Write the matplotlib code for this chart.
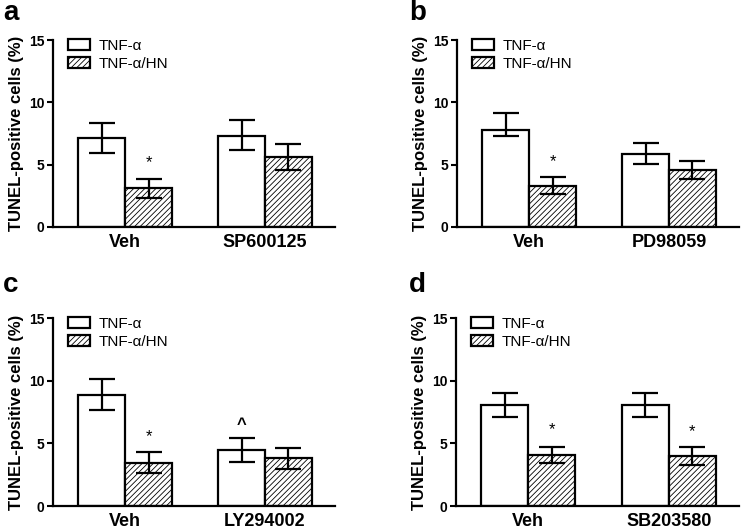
import matplotlib
matplotlib.use("Agg")
import matplotlib.pyplot as plt
import numpy as np

plt.rcParams['font.family'] = ['Liberation Sans', 'DejaVu Sans']
plt.rcParams['hatch.color'] = '#7a7a7a'
plt.rcParams['hatch.linewidth'] = 0.6

series = ["TNF-\u03b1", "TNF-\u03b1/HN"]
panel_letters = ["a", "b", "c", "d"]
groups = [["Veh", "SP600125"], ["Veh", "PD98059"], ["Veh", "LY294002"], ["Veh", "SB203580"]]

# means [panel][group]
tnf_vals = [[7.14, 7.33], [7.81, 5.88], [8.86, 4.46], [8.06, 8.06]]
hn_vals = [[3.10, 5.59], [3.32, 4.57], [3.47, 3.79], [4.06, 3.95]]
tnf_err_lo = [[1.20, 1.18], [0.51, 0.86], [1.23, 0.94], [0.94, 0.94]]
tnf_err_hi = [[1.20, 1.23], [1.36, 0.86], [1.28, 0.93], [0.98, 0.98]]
hn_err_lo = [[0.78, 1.04], [0.65, 0.70], [0.80, 0.85], [0.62, 0.67]]
hn_err_hi = [[0.78, 1.04], [0.66, 0.75], [0.85, 0.85], [0.66, 0.72]]

# annotations: (panel, series index, group index, text, y centre)
annotations = [
    (0, 1, 0, "*", 5.2),
    (1, 1, 0, "*", 5.27),
    (2, 1, 0, "*", 5.5),
    (2, 0, 1, "^", 6.5),
    (3, 1, 0, "*", 6.1),
    (3, 1, 1, "*", 5.9),
]

yticks = [0, 5, 10, 15]
ylabel = "TUNEL-positive cells (%)"

W, H = 742, 530
fig = plt.figure(figsize=(W / 100, H / 100), dpi=100)

# axes rects in pixels: left, right, top, bottom
rects = [(53, 335, 40, 227), (457, 739, 40, 227), (53, 335, 318, 506), (456, 739, 318, 506)]
letter_pos = [(3, 20), (409, 20), (3, 292), (409, 292)]

bw = 0.335
for p in range(4):
    l, r, t, b = rects[p]
    ax = fig.add_axes([l / W, 1 - b / H, (r - l) / W, (b - t) / H])
    x = np.arange(2)
    xs = [x - bw / 2, x + bw / 2]
    vals = [tnf_vals[p], hn_vals[p]]
    elo = [tnf_err_lo[p], hn_err_lo[p]]
    ehi = [tnf_err_hi[p], hn_err_hi[p]]
    hatches = [None, '//////']
    for s in range(2):
        ax.bar(xs[s], vals[s], width=bw, facecolor='white', edgecolor='black',
               linewidth=1.6, hatch=hatches[s], label=series[s], zorder=2)
        ax.errorbar(xs[s], vals[s], yerr=[elo[s], ehi[s]], fmt='none', ecolor='black',
                    elinewidth=1.6, capsize=9.5, capthick=1.6, zorder=3)
    for (pp, s, g, txt, yv) in annotations:
        if pp == p:
            if txt == "^":
                ax.text(xs[s][g], yv, txt, ha='center', va='center', fontsize=12, fontweight='bold')
            else:
                ax.text(xs[s][g], yv, txt, ha='center', va='center', fontsize=12)
    ax.set_ylim(0, 15)
    ax.set_xlim(-0.515, 1.5)
    ax.set_yticks(yticks)
    ax.set_yticklabels([str(v) for v in yticks], fontsize=10, fontweight='bold')
    ax.set_xticks(x)
    ax.set_xticklabels(groups[p], fontsize=13, fontweight='bold')
    ax.tick_params(axis='x', length=0, pad=5)
    ax.tick_params(axis='y', length=4, width=1.5, direction='out', pad=2)
    for sp in ['top', 'right']:
        ax.spines[sp].set_visible(False)
    for sp in ['left', 'bottom']:
        ax.spines[sp].set_linewidth(1.6)
    ax.set_ylabel(ylabel, fontsize=12, fontweight='bold', labelpad=4)
    leg = ax.legend(loc='upper left', bbox_to_anchor=(0.032, 1.04), frameon=False, fontsize=11,
                    handlelength=1.4, handleheight=0.75, handletextpad=0.6, labelspacing=0.3,
                    borderaxespad=0)
    for h in leg.legend_handles:
        h.set_linewidth(1.6)
    lx, ly = letter_pos[p]
    fig.text(lx / W, 1 - ly / H, panel_letters[p], fontsize=20, fontweight='bold', va='baseline', ha='left')

fig.savefig("out.png", dpi=100)
